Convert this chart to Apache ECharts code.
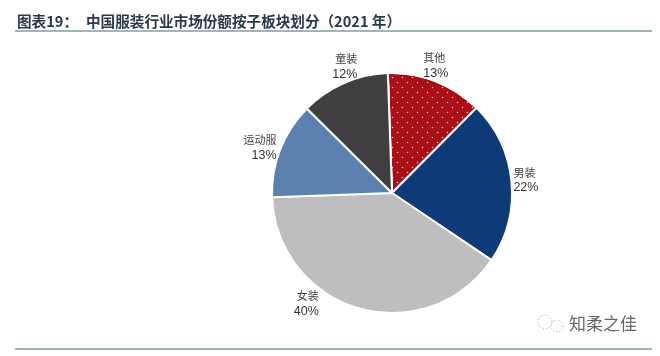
<!DOCTYPE html>
<html>
<head>
<meta charset="utf-8">
<style>
  html, body { margin: 0; padding: 0; background: #fff; }
  #chart { width: 660px; height: 356px; }
</style>
<script src="https://cdn.jsdelivr.net/npm/echarts@6/dist/echarts.min.js"></script>
</head>
<body>
<div id="chart"></div>
<script>
// 数据
var categories = ['其他', '男装', '女装', '运动服', '童装'];
var shares = [13, 22, 40, 13, 12];
var colors = ['#A80F16', '#0E3A78', '#BEBEC0', '#5B82AE', '#404040'];
// 标签微调
var labelShift = [[-19, -12], [-7, -1], [-34, -9], [5, 0], [20, -13]];

var chart = echarts.init(document.getElementById('chart'));

var pieData = categories.map(function (name, i) {
  var item = { name: name, value: shares[i], itemStyle: { color: colors[i] } };
  // 其他 用白点填充
  if (name === '其他') {
    item.itemStyle.decal = {
      symbol: 'circle',
      symbolSize: 0.3,
      color: 'rgba(255, 225, 225, 0.85)',
      dashArrayX: [[5, 5], [0, 5, 5, 0]],
      dashArrayY: [5, 0],
      rotation: 0
    };
  }
  return item;
});

var option = {
  backgroundColor: '#fff',
  animation: false,
  graphic: [
    { type: 'text', left: 17, top: 14, style: { text: '图表19：', font: 'bold 14.6px "Noto Sans CJK SC", sans-serif', fill: '#2b3a44' } },
    { type: 'text', left: 86, top: 14, style: { text: '中国服装行业市场份额按子板块划分（2021 年）', font: 'bold 14.6px "Noto Sans CJK SC", sans-serif', fill: '#2b3a44' } },
    { type: 'line', shape: { x1: 15, y1: 31, x2: 652, y2: 31 }, style: { stroke: '#7f9f9b', lineWidth: 1.5 } },
    { type: 'line', shape: { x1: 15, y1: 349, x2: 652, y2: 349 }, style: { stroke: '#7f9f9b', lineWidth: 1.5 } },
    { type: 'text', left: 569, top: 315, style: { text: '知柔之佳', font: '17px "Noto Sans CJK SC", sans-serif', fill: '#666' } },
    { type: 'circle', shape: { cx: 545, cy: 322, r: 7 }, style: { fill: 'none', stroke: '#aaa', lineWidth: 1, lineDash: [1, 2] } },
    { type: 'circle', shape: { cx: 557, cy: 326, r: 6 }, style: { fill: 'none', stroke: '#aaa', lineWidth: 1, lineDash: [1, 2] } }
  ],
  series: [{
    type: 'pie',
    center: [392, 193],
    radius: [0, 120],
    startAngle: 92,
    clockwise: true,
    avoidLabelOverlap: false,
    itemStyle: { borderColor: '#fff', borderWidth: 2 },
    label: {
      show: true,
      position: 'outside',
      formatter: function (p) {
        return '{n|' + p.name + '}\n{v|' + p.value + '%}';
      },
      rich: {
        n: { fontFamily: '"Noto Sans CJK SC", serif', fontSize: 11, color: '#444', lineHeight: 16 },
        v: { fontFamily: '"Liberation Sans", Arial, sans-serif', fontSize: 12.5, color: '#333', lineHeight: 15 }
      }
    },
    labelLine: { show: false, length: 4, length2: 0 },
    labelLayout: function (p) {
      var s = labelShift[p.dataIndex];
      return { dx: s[0], dy: s[1] };
    },
    emphasis: { disabled: true },
    data: pieData
  }]
};

chart.setOption(option);
</script>
</body>
</html>
